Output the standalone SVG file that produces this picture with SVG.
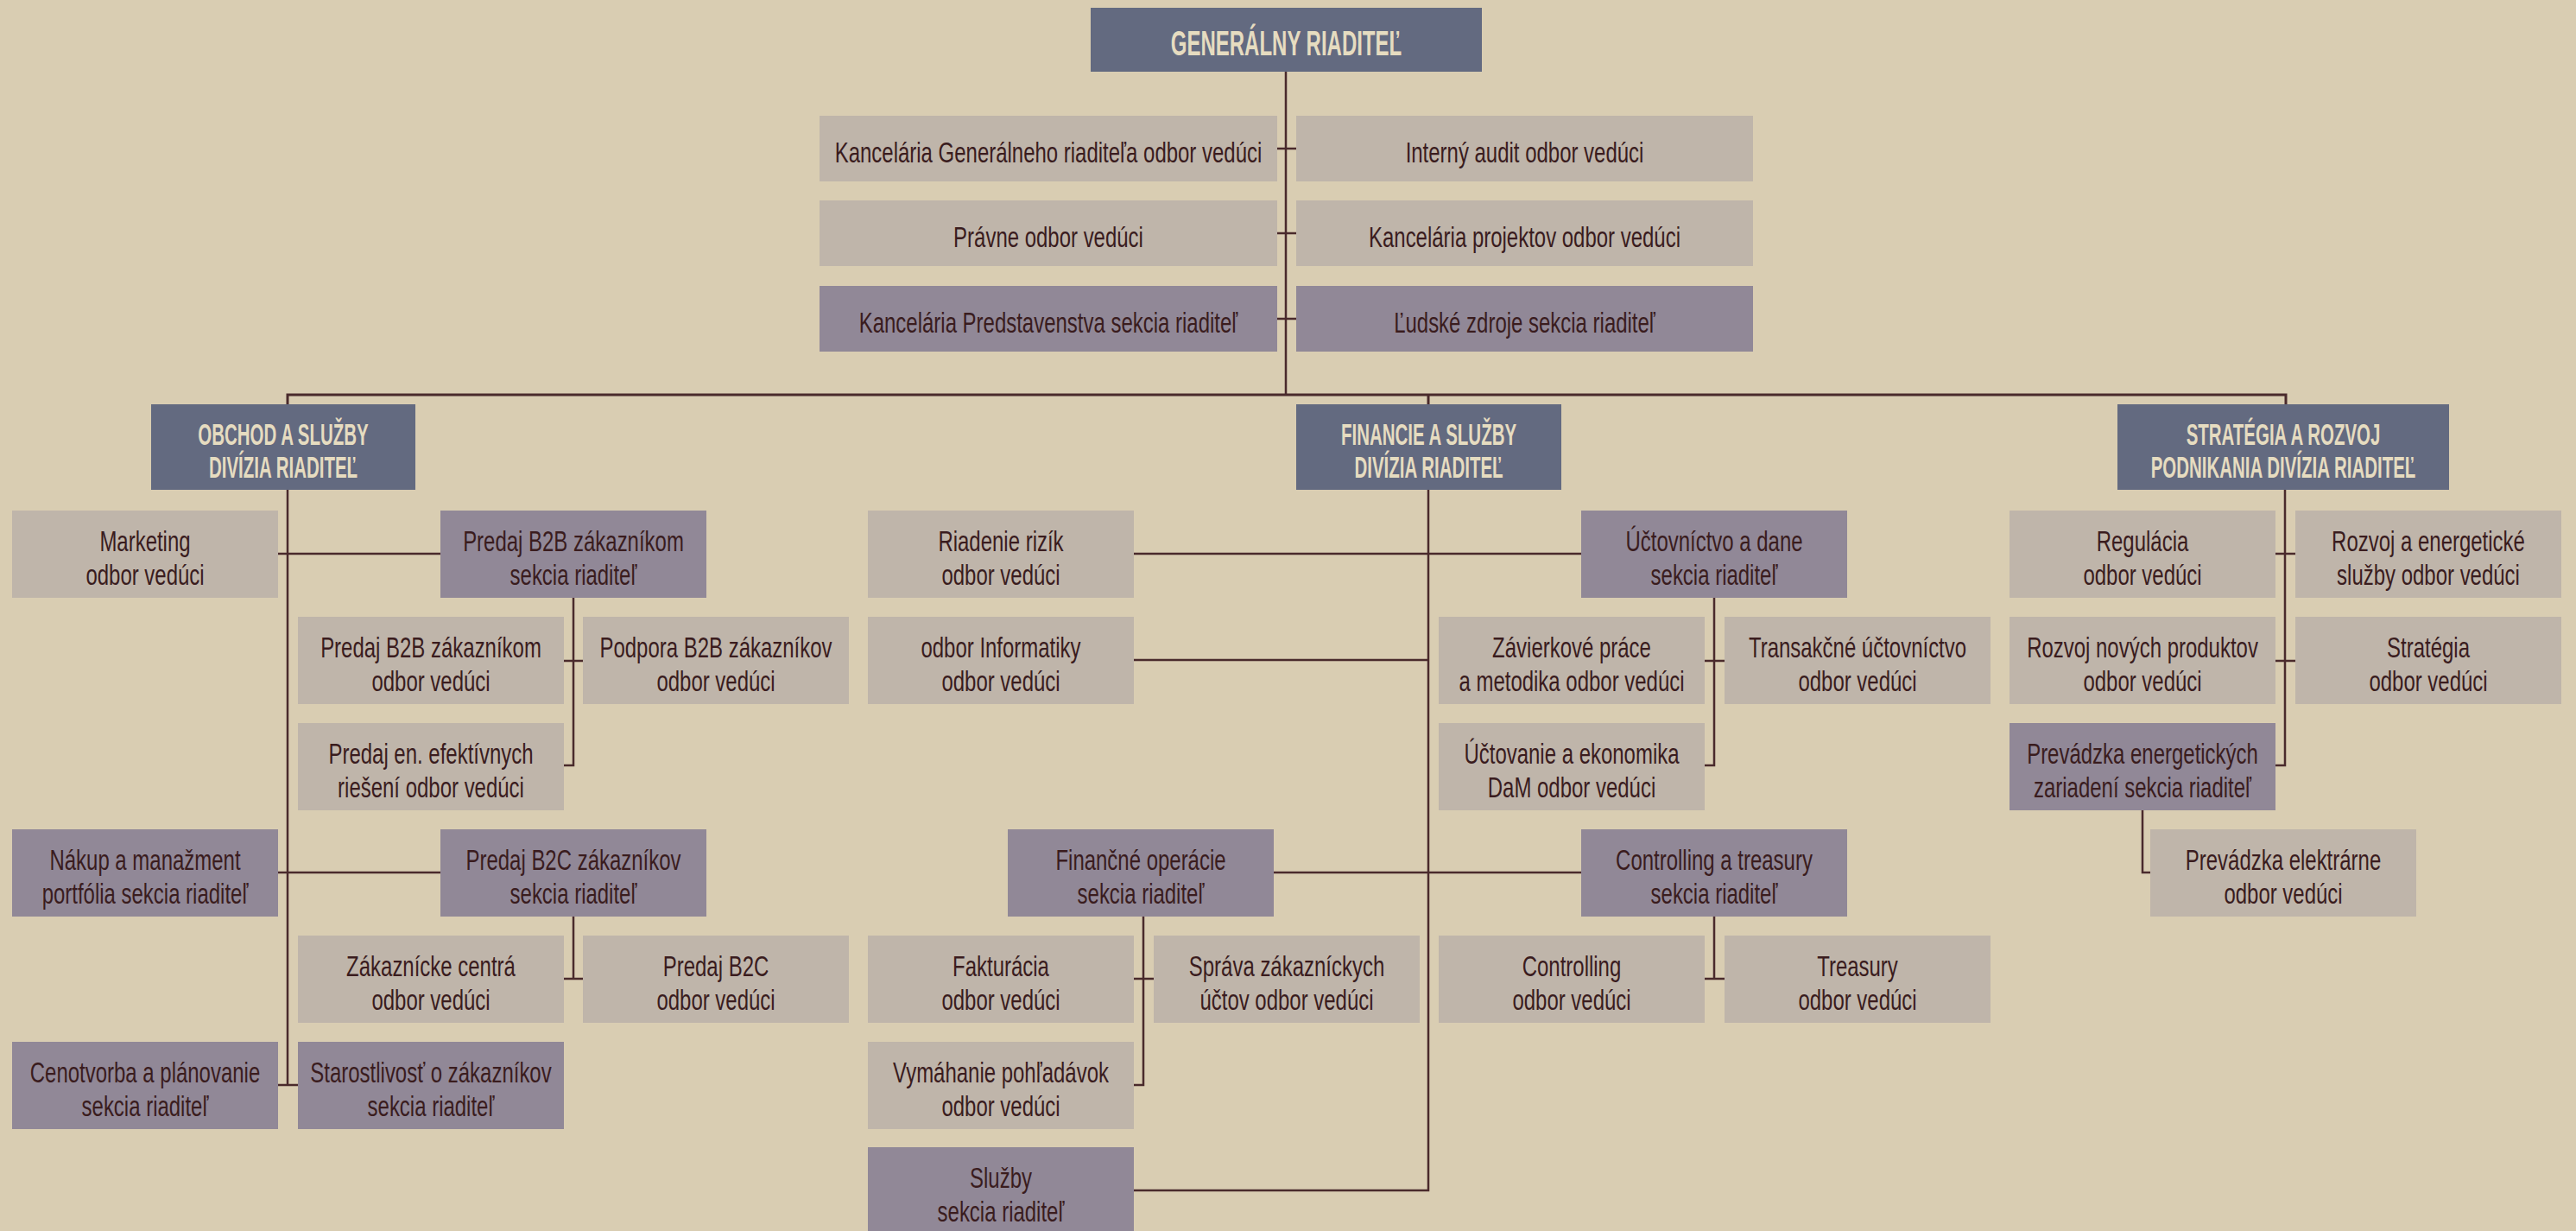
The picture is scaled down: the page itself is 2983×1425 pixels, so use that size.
<svg xmlns="http://www.w3.org/2000/svg" width="2983" height="1425" viewBox="0 0 2983 1425">
<style>
.bg{fill:#d9cdb2}
.dk{fill:#636a80}
.lt{fill:#bfb5aa}
.pu{fill:#918897}
.t{font-family:"Liberation Sans",Arial,sans-serif;font-size:34px;fill:#3a1c1e;text-anchor:middle}
.h{font-family:"Liberation Sans",Arial,sans-serif;font-size:35px;font-weight:bold;fill:#e6dcc0;text-anchor:middle}
.g{font-size:41px}
.c{fill:none;stroke:#4a2a2c;stroke-width:2.5}
</style>
<rect class="bg" x="0" y="0" width="2983" height="1425"/>
<g id="connectors">
<path class="c" d="M1489 83V457"/>
<path class="c" d="M1479 172H1501M1479 270H1501M1479 369H1501"/>
<path class="c" d="M333 468V457H2647V468M1654 457V468" style="stroke-width:3"/>
<path class="c" d="M333 567V1256M322 641H510M322 1010H510M322 1256H345"/>
<path class="c" d="M664 692V886H652M652 765H675"/>
<path class="c" d="M664 1061V1133M652 1133H675"/>
<path class="c" d="M1654 567V1378H1313M1313 641H1831M1313 764H1654M1475 1010H1831"/>
<path class="c" d="M1985 692V886H1974M1974 765H1997"/>
<path class="c" d="M1324 1061V1256H1313M1313 1133H1336"/>
<path class="c" d="M1985 1061V1133M1974 1133H1997"/>
<path class="c" d="M2646 567V886H2635M2635 641H2658M2635 765H2658"/>
<path class="c" d="M2481 938V1010H2490"/>
</g>
<g id="gr"><rect class="dk" x="1263" y="9" width="453" height="74"/><text class="h g" transform="translate(1489.5 0) scale(0.585 1)" x="0" y="64">GENERÁLNY RIADITEĽ</text></g>
<g id="s1"><rect class="lt" x="949" y="134" width="530" height="76"/><text class="t" transform="translate(1214 0) scale(0.705 1)" x="0" y="188">Kancelária Generálneho riaditeľa odbor vedúci</text></g>
<g id="s2"><rect class="lt" x="1501" y="134" width="529" height="76"/><text class="t" transform="translate(1765.5 0) scale(0.705 1)" x="0" y="188">Interný audit odbor vedúci</text></g>
<g id="s3"><rect class="lt" x="949" y="232" width="530" height="76"/><text class="t" transform="translate(1214 0) scale(0.705 1)" x="0" y="286">Právne odbor vedúci</text></g>
<g id="s4"><rect class="lt" x="1501" y="232" width="529" height="76"/><text class="t" transform="translate(1765.5 0) scale(0.705 1)" x="0" y="286">Kancelária projektov odbor vedúci</text></g>
<g id="s5"><rect class="pu" x="949" y="331" width="530" height="76"/><text class="t" transform="translate(1214 0) scale(0.705 1)" x="0" y="385">Kancelária Predstavenstva sekcia riaditeľ</text></g>
<g id="s6"><rect class="pu" x="1501" y="331" width="529" height="76"/><text class="t" transform="translate(1765.5 0) scale(0.705 1)" x="0" y="385">Ľudské zdroje sekcia riaditeľ</text></g>
<g id="d1"><rect class="dk" x="175" y="468" width="306" height="99"/><g transform="translate(328 0) scale(0.585 1)"><text class="h" x="0" y="515">OBCHOD A SLUŽBY</text><text class="h" x="0" y="553">DIVÍZIA RIADITEĽ</text></g></g>
<g id="d2"><rect class="dk" x="1501" y="468" width="307" height="99"/><g transform="translate(1654.5 0) scale(0.585 1)"><text class="h" x="0" y="515">FINANCIE A SLUŽBY</text><text class="h" x="0" y="553">DIVÍZIA RIADITEĽ</text></g></g>
<g id="d3"><rect class="dk" x="2452" y="468" width="384" height="99"/><g transform="translate(2644 0) scale(0.585 1)"><text class="h" x="0" y="515">STRATÉGIA A ROZVOJ</text><text class="h" x="0" y="553">PODNIKANIA DIVÍZIA RIADITEĽ</text></g></g>
<g id="n1"><rect class="lt" x="14" y="591" width="308" height="101"/><g transform="translate(168 0) scale(0.705 1)"><text class="t" x="0" y="638">Marketing</text><text class="t" x="0" y="677">odbor vedúci</text></g></g>
<g id="n2"><rect class="pu" x="510" y="591" width="308" height="101"/><g transform="translate(664 0) scale(0.705 1)"><text class="t" x="0" y="638">Predaj B2B zákazníkom</text><text class="t" x="0" y="677">sekcia riaditeľ</text></g></g>
<g id="n3"><rect class="lt" x="345" y="714" width="308" height="101"/><g transform="translate(499 0) scale(0.705 1)"><text class="t" x="0" y="761">Predaj B2B zákazníkom</text><text class="t" x="0" y="800">odbor vedúci</text></g></g>
<g id="n4"><rect class="lt" x="675" y="714" width="308" height="101"/><g transform="translate(829 0) scale(0.705 1)"><text class="t" x="0" y="761">Podpora B2B zákazníkov</text><text class="t" x="0" y="800">odbor vedúci</text></g></g>
<g id="n5"><rect class="lt" x="345" y="837" width="308" height="101"/><g transform="translate(499 0) scale(0.705 1)"><text class="t" x="0" y="884">Predaj en. efektívnych</text><text class="t" x="0" y="923">riešení odbor vedúci</text></g></g>
<g id="n6"><rect class="pu" x="14" y="960" width="308" height="101"/><g transform="translate(168 0) scale(0.705 1)"><text class="t" x="0" y="1007">Nákup a manažment</text><text class="t" x="0" y="1046">portfólia sekcia riaditeľ</text></g></g>
<g id="n7"><rect class="pu" x="510" y="960" width="308" height="101"/><g transform="translate(664 0) scale(0.705 1)"><text class="t" x="0" y="1007">Predaj B2C zákazníkov</text><text class="t" x="0" y="1046">sekcia riaditeľ</text></g></g>
<g id="n8"><rect class="lt" x="345" y="1083" width="308" height="101"/><g transform="translate(499 0) scale(0.705 1)"><text class="t" x="0" y="1130">Zákaznícke centrá</text><text class="t" x="0" y="1169">odbor vedúci</text></g></g>
<g id="n9"><rect class="lt" x="675" y="1083" width="308" height="101"/><g transform="translate(829 0) scale(0.705 1)"><text class="t" x="0" y="1130">Predaj B2C</text><text class="t" x="0" y="1169">odbor vedúci</text></g></g>
<g id="n10"><rect class="pu" x="14" y="1206" width="308" height="101"/><g transform="translate(168 0) scale(0.705 1)"><text class="t" x="0" y="1253">Cenotvorba a plánovanie</text><text class="t" x="0" y="1292">sekcia riaditeľ</text></g></g>
<g id="n11"><rect class="pu" x="345" y="1206" width="308" height="101"/><g transform="translate(499 0) scale(0.705 1)"><text class="t" x="0" y="1253">Starostlivosť o zákazníkov</text><text class="t" x="0" y="1292">sekcia riaditeľ</text></g></g>
<g id="f1"><rect class="lt" x="1005" y="591" width="308" height="101"/><g transform="translate(1159 0) scale(0.705 1)"><text class="t" x="0" y="638">Riadenie rizík</text><text class="t" x="0" y="677">odbor vedúci</text></g></g>
<g id="f2"><rect class="pu" x="1831" y="591" width="308" height="101"/><g transform="translate(1985 0) scale(0.705 1)"><text class="t" x="0" y="638">Účtovníctvo a dane</text><text class="t" x="0" y="677">sekcia riaditeľ</text></g></g>
<g id="f3"><rect class="lt" x="1005" y="714" width="308" height="101"/><g transform="translate(1159 0) scale(0.705 1)"><text class="t" x="0" y="761">odbor Informatiky</text><text class="t" x="0" y="800">odbor vedúci</text></g></g>
<g id="f4"><rect class="lt" x="1666" y="714" width="308" height="101"/><g transform="translate(1820 0) scale(0.705 1)"><text class="t" x="0" y="761">Závierkové práce</text><text class="t" x="0" y="800">a metodika odbor vedúci</text></g></g>
<g id="f5"><rect class="lt" x="1997" y="714" width="308" height="101"/><g transform="translate(2151 0) scale(0.705 1)"><text class="t" x="0" y="761">Transakčné účtovníctvo</text><text class="t" x="0" y="800">odbor vedúci</text></g></g>
<g id="f6"><rect class="lt" x="1666" y="837" width="308" height="101"/><g transform="translate(1820 0) scale(0.705 1)"><text class="t" x="0" y="884">Účtovanie a ekonomika</text><text class="t" x="0" y="923">DaM odbor vedúci</text></g></g>
<g id="f7"><rect class="pu" x="1167" y="960" width="308" height="101"/><g transform="translate(1321 0) scale(0.705 1)"><text class="t" x="0" y="1007">Finančné operácie</text><text class="t" x="0" y="1046">sekcia riaditeľ</text></g></g>
<g id="f8"><rect class="pu" x="1831" y="960" width="308" height="101"/><g transform="translate(1985 0) scale(0.705 1)"><text class="t" x="0" y="1007">Controlling a treasury</text><text class="t" x="0" y="1046">sekcia riaditeľ</text></g></g>
<g id="f9"><rect class="lt" x="1005" y="1083" width="308" height="101"/><g transform="translate(1159 0) scale(0.705 1)"><text class="t" x="0" y="1130">Fakturácia</text><text class="t" x="0" y="1169">odbor vedúci</text></g></g>
<g id="f10"><rect class="lt" x="1336" y="1083" width="308" height="101"/><g transform="translate(1490 0) scale(0.705 1)"><text class="t" x="0" y="1130">Správa zákazníckych</text><text class="t" x="0" y="1169">účtov odbor vedúci</text></g></g>
<g id="f11"><rect class="lt" x="1666" y="1083" width="308" height="101"/><g transform="translate(1820 0) scale(0.705 1)"><text class="t" x="0" y="1130">Controlling</text><text class="t" x="0" y="1169">odbor vedúci</text></g></g>
<g id="f12"><rect class="lt" x="1997" y="1083" width="308" height="101"/><g transform="translate(2151 0) scale(0.705 1)"><text class="t" x="0" y="1130">Treasury</text><text class="t" x="0" y="1169">odbor vedúci</text></g></g>
<g id="f13"><rect class="lt" x="1005" y="1206" width="308" height="101"/><g transform="translate(1159 0) scale(0.705 1)"><text class="t" x="0" y="1253">Vymáhanie pohľadávok</text><text class="t" x="0" y="1292">odbor vedúci</text></g></g>
<g id="f14"><rect class="pu" x="1005" y="1328" width="308" height="101"/><g transform="translate(1159 0) scale(0.705 1)"><text class="t" x="0" y="1375">Služby</text><text class="t" x="0" y="1414">sekcia riaditeľ</text></g></g>
<g id="r1"><rect class="lt" x="2327" y="591" width="308" height="101"/><g transform="translate(2481 0) scale(0.705 1)"><text class="t" x="0" y="638">Regulácia</text><text class="t" x="0" y="677">odbor vedúci</text></g></g>
<g id="r2"><rect class="lt" x="2658" y="591" width="308" height="101"/><g transform="translate(2812 0) scale(0.705 1)"><text class="t" x="0" y="638">Rozvoj a energetické</text><text class="t" x="0" y="677">služby odbor vedúci</text></g></g>
<g id="r3"><rect class="lt" x="2327" y="714" width="308" height="101"/><g transform="translate(2481 0) scale(0.705 1)"><text class="t" x="0" y="761">Rozvoj nových produktov</text><text class="t" x="0" y="800">odbor vedúci</text></g></g>
<g id="r4"><rect class="lt" x="2658" y="714" width="308" height="101"/><g transform="translate(2812 0) scale(0.705 1)"><text class="t" x="0" y="761">Stratégia</text><text class="t" x="0" y="800">odbor vedúci</text></g></g>
<g id="r5"><rect class="pu" x="2327" y="837" width="308" height="101"/><g transform="translate(2481 0) scale(0.705 1)"><text class="t" x="0" y="884">Prevádzka energetických</text><text class="t" x="0" y="923">zariadení sekcia riaditeľ</text></g></g>
<g id="r6"><rect class="lt" x="2490" y="960" width="308" height="101"/><g transform="translate(2644 0) scale(0.705 1)"><text class="t" x="0" y="1007">Prevádzka elektrárne</text><text class="t" x="0" y="1046">odbor vedúci</text></g></g>
</svg>
